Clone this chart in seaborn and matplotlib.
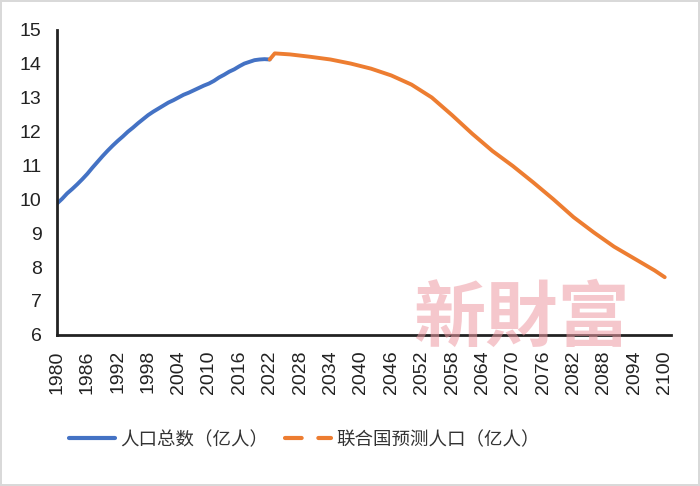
import matplotlib
matplotlib.use("Agg")
import matplotlib.pyplot as plt
from matplotlib.lines import Line2D
import seaborn as sns
import pandas as pd

# ---- data ----
hist_years = list(range(1980, 2023))
hist_pop = [9.87, 10.01, 10.17, 10.30, 10.44, 10.59, 10.75, 10.93, 11.10, 11.27,
            11.43, 11.58, 11.72, 11.85, 11.99, 12.11, 12.24, 12.36, 12.48, 12.58,
            12.67, 12.76, 12.85, 12.92, 13.00, 13.08, 13.14, 13.21, 13.28, 13.35,
            13.41, 13.49, 13.59, 13.67, 13.76, 13.83, 13.92, 14.00, 14.05, 14.10,
            14.12, 14.13, 14.12]
proj_years = [2022, 2023, 2026, 2030, 2034, 2038, 2042, 2046, 2050, 2054, 2058,
              2062, 2066, 2070, 2074, 2078, 2082, 2086, 2090, 2094, 2098, 2100]
proj_pop = [14.12, 14.30, 14.27, 14.20, 14.12, 14.00, 13.85, 13.65, 13.38, 13.00,
            12.48, 11.93, 11.42, 10.98, 10.50, 10.00, 9.47, 9.02, 8.60, 8.25,
            7.90, 7.70]
tick_years = list(range(1980, 2101, 6))
y_ticks = list(range(6, 16))
label_hist = "人口总数（亿人）"
label_proj = "联合国预测人口（亿人）"
watermark = "新財富"

blue = "#4472C4"
orange = "#ED7D31"

sns.set_style("white")
plt.rcParams['font.family'] = ['Liberation Sans', 'Noto Sans CJK SC', 'DejaVu Sans']

fig = plt.figure(figsize=(7.0, 4.86), dpi=100)
fig.patch.set_edgecolor("#d9d9d9")
fig.patch.set_linewidth(1.5)
ax = fig.add_axes([0.0814, 0.311, 0.8776, 0.628])

df_h = pd.DataFrame({"year": hist_years, "pop": hist_pop})
df_p = pd.DataFrame({"year": proj_years, "pop": proj_pop})
sns.lineplot(data=df_h, x="year", y="pop", ax=ax, color=blue, linewidth=2.8,
             solid_capstyle="round")
sns.lineplot(data=df_p, x="year", y="pop", ax=ax, color=orange, linewidth=2.8,
             solid_capstyle="round")

ax.set_xlim(1980, 2101.3)
ax.set_ylim(6, 15)
ax.set_xticks(tick_years)
ax.set_xticklabels([str(y) for y in tick_years], rotation=90, fontsize=14,
                   color="#222222")
ax.set_yticks(y_ticks)
ax.set_yticklabels([str(v) for v in y_ticks], fontsize=14, color="#222222")
ax.set_xlabel("")
ax.set_ylabel("")
ax.tick_params(axis="x", length=0, pad=11)
ax.tick_params(axis="y", direction="in", length=6, width=1.8, color="#222222",
               pad=11)

for s in ["top", "right"]:
    ax.spines[s].set_visible(False)
for s in ["left", "bottom"]:
    ax.spines[s].set_color("#222222")
    ax.spines[s].set_linewidth(2)

handles = [
    Line2D([0], [0], color=blue, lw=3, solid_capstyle="round"),
    Line2D([0], [0], color=orange, lw=3, dashes=(4, 4), dash_capstyle="round"),
]
fig.legend(handles, [label_hist, label_proj], loc="center",
           bbox_to_anchor=(0.435, 0.095), ncol=2, frameon=False,
           prop={"family": ["Noto Sans CJK SC"], "size": 13.3},
           handlelength=2.5, handletextpad=0.3, columnspacing=0.9,
           labelcolor="#333333")

fig.text(0.745, 0.343, watermark, ha="center", va="center", fontsize=52,
         fontweight="bold", family=["Noto Sans CJK TC"], color="#EE9AA3",
         alpha=0.55, zorder=10)

fig.savefig("out.png", dpi=100)
